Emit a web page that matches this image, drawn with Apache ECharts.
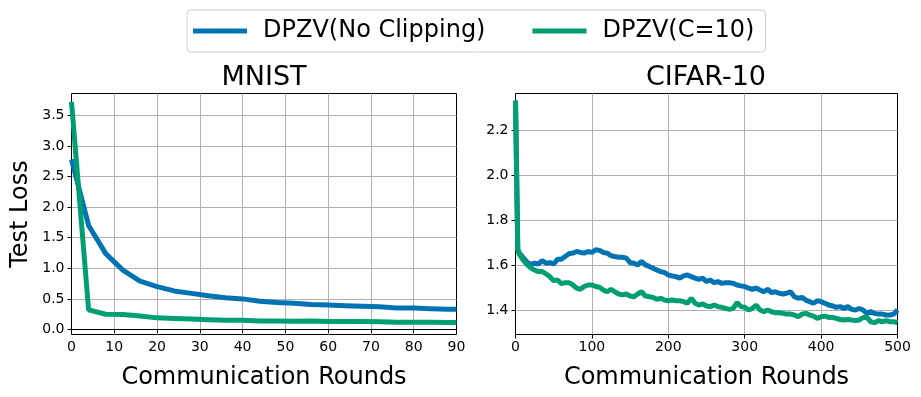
<!DOCTYPE html>
<html>
<head>
<meta charset="utf-8">
<script src="https://cdn.jsdelivr.net/npm/echarts@6/dist/echarts.min.js"></script>
<style>
  html, body { margin: 0; padding: 0; background: #fff; }
  #main { width: 921px; height: 397px; }
</style>
</head>
<body>
<div id="main"></div>
<script>
// MNIST
const mnistRounds = [0, 4, 8, 12, 16, 20, 24, 28, 32, 36, 40, 44, 48, 52, 56, 60, 64, 68, 72, 76, 80, 84, 88, 90];
const mnistNoClip = [2.78, 1.70, 1.24, 0.97, 0.79, 0.70, 0.63, 0.59, 0.55, 0.52, 0.50, 0.46, 0.44, 0.43, 0.41, 0.40, 0.39, 0.38, 0.37, 0.35, 0.35, 0.34, 0.33, 0.33];
const mnistClip = [3.72, 0.32, 0.25, 0.245, 0.22, 0.19, 0.18, 0.17, 0.16, 0.15, 0.15, 0.14, 0.14, 0.135, 0.14, 0.13, 0.13, 0.13, 0.125, 0.12, 0.12, 0.12, 0.115, 0.115];

// CIFAR-10
const cifarRounds = [0, 3, 5, 10, 15, 20, 25, 30, 35, 40, 45, 50, 55, 60, 65, 70, 75, 80, 85, 90, 95,
  100, 105, 110, 115, 120, 125, 130, 135, 140, 145, 150, 155, 160, 165, 170, 175, 180, 185, 190, 195,
  200, 205, 210, 215, 220, 225, 230, 235, 240, 245, 250, 255, 260, 265, 270, 275, 280, 285, 290, 295,
  300, 305, 310, 315, 320, 325, 330, 335, 340, 345, 350, 355, 360, 365, 370, 375, 380, 385, 390, 395,
  400, 405, 410, 415, 420, 425, 430, 435, 440, 445, 450, 455, 460, 465, 470, 475, 480, 485, 490, 495, 500];
const cifarNoClip = [2.33, 1.67, 1.655, 1.635, 1.615, 1.605, 1.61, 1.607, 1.622, 1.61, 1.613, 1.607, 1.628, 1.628, 1.64, 1.652, 1.655, 1.662, 1.658, 1.655, 1.662,
  1.658, 1.67, 1.667, 1.658, 1.655, 1.643, 1.64, 1.637, 1.637, 1.633, 1.613, 1.61, 1.603, 1.618, 1.603, 1.596, 1.588, 1.58, 1.573, 1.569,
  1.558, 1.554, 1.551, 1.544, 1.554, 1.558, 1.551, 1.544, 1.539, 1.544, 1.529, 1.536, 1.524, 1.529, 1.521, 1.524, 1.524, 1.521, 1.514, 1.51,
  1.507, 1.50, 1.495, 1.50, 1.492, 1.484, 1.495, 1.48, 1.484, 1.477, 1.474, 1.477, 1.484, 1.462, 1.455, 1.459, 1.447, 1.44, 1.433, 1.444,
  1.44, 1.433, 1.425, 1.421, 1.415, 1.418, 1.41, 1.418, 1.406, 1.403, 1.41, 1.403, 1.388, 1.396, 1.388, 1.385, 1.385, 1.381, 1.381, 1.385, 1.403];
const cifarClip = [2.33, 1.67, 1.65, 1.625, 1.605, 1.59, 1.58, 1.573, 1.573, 1.563, 1.55, 1.533, 1.536, 1.52, 1.524, 1.524, 1.514, 1.50, 1.495, 1.507, 1.514,
  1.514, 1.507, 1.504, 1.492, 1.484, 1.495, 1.484, 1.474, 1.47, 1.474, 1.465, 1.462, 1.474, 1.484, 1.465, 1.462, 1.459, 1.45, 1.455, 1.447,
  1.444, 1.447, 1.444, 1.444, 1.44, 1.433, 1.455, 1.433, 1.425, 1.43, 1.421, 1.418, 1.425, 1.418, 1.415, 1.41, 1.406, 1.41, 1.436, 1.418,
  1.415, 1.403, 1.41, 1.425, 1.403, 1.396, 1.403, 1.396, 1.391, 1.391, 1.388, 1.385, 1.385, 1.381, 1.373, 1.385, 1.388, 1.381, 1.376, 1.366,
  1.373, 1.376, 1.37, 1.37, 1.366, 1.361, 1.359, 1.361, 1.359, 1.356, 1.359, 1.37, 1.37, 1.351, 1.347, 1.356, 1.351, 1.356, 1.351, 1.351, 1.347];

const seriesNames = ['DPZV(No Clipping)', 'DPZV(C=10)'];
const colors = ['#0173b2', '#029e73'];

const font = 'DejaVu Sans';
const gridColor = '#b0b0b0';

function pairs(xs, ys) {
  return xs.map((x, i) => [x, ys[i]]);
}

// 外框坐标轴（带 x 轴刻度），内层坐标轴（带 y 轴刻度）
function frameX(gridIndex, max, interval) {
  return {
    type: 'value', gridIndex: gridIndex, min: 0, max: max, interval: interval,
    name: 'Communication Rounds', nameLocation: 'middle', nameGap: 31,
    nameTextStyle: { fontFamily: font, fontSize: 24, color: '#000' },
    axisLine: { show: true, lineStyle: { color: '#000', width: 1 } },
    axisTick: { show: true, length: 4, lineStyle: { color: '#000' } },
    axisLabel: { fontFamily: font, fontSize: 14, color: '#000', margin: 6 },
    splitLine: { show: true, showMinLine: false, showMaxLine: false, lineStyle: { color: gridColor, width: 1 } }
  };
}
function hiddenX(gridIndex, max) {
  return { type: 'value', gridIndex: gridIndex, min: 0, max: max, show: false };
}
function innerY(gridIndex, min, max, interval) {
  return {
    type: 'value', gridIndex: gridIndex, min: min, max: max, interval: interval,
    axisLine: { show: false },
    axisTick: { show: true, length: 4, lineStyle: { color: '#000' } },
    axisLabel: { fontFamily: font, fontSize: 14, color: '#000', margin: 7, formatter: v => v.toFixed(1) },
    splitLine: { show: true, lineStyle: { color: gridColor, width: 1 } }
  };
}

let myChart = echarts.init(document.getElementById('main'));
myChart.setOption({
  animation: false,
  color: colors,
  title: [
    { text: 'MNIST', left: 264, top: 64, textAlign: 'center', padding: 0,
      textStyle: { fontFamily: font, fontSize: 27, fontWeight: 'normal', color: '#000' } },
    { text: 'CIFAR-10', left: 706, top: 64, textAlign: 'center', padding: 0,
      textStyle: { fontFamily: font, fontSize: 27, fontWeight: 'normal', color: '#000' } }
  ],
  legend: {
    data: seriesNames,
    left: 187, top: 10,
    padding: [9, 11, 9, 6],
    itemGap: 47,
    itemWidth: 54, itemHeight: 5,
    icon: 'rect',
    borderColor: '#cccccc', borderWidth: 1, borderRadius: 4,
    textStyle: { fontFamily: font, fontSize: 24, color: '#000', padding: [0, 0, 0, 11] }
  },
  grid: [
    { left: 71.5, top: 93.5, width: 385, height: 241, show: true, borderColor: '#000', borderWidth: 1 },
    { left: 71.5, top: 115.3, width: 385, height: 214.2 },
    { left: 515.5, top: 93.5, width: 382, height: 241, show: true, borderColor: '#000', borderWidth: 1 },
    { left: 515.5, top: 130, width: 382, height: 180.7 }
  ],
  xAxis: [
    frameX(0, 90, 10),
    hiddenX(1, 90),
    frameX(2, 500, 100),
    hiddenX(3, 500)
  ],
  yAxis: [
    { type: 'value', gridIndex: 0, min: -0.09, max: 3.864,
      name: 'Test Loss', nameLocation: 'middle', nameGap: 39,
      nameTextStyle: { fontFamily: font, fontSize: 24, color: '#000' },
      axisLine: { show: false }, axisTick: { show: false }, axisLabel: { show: false }, splitLine: { show: false } },
    innerY(1, 0, 3.5, 0.5),
    { type: 'value', gridIndex: 2, min: 1.2925, max: 2.364, show: false },
    innerY(3, 1.4, 2.2, 0.2)
  ],
  series: [
    { name: seriesNames[0], type: 'line', xAxisIndex: 1, yAxisIndex: 1, clip: false, showSymbol: false,
      lineStyle: { width: 5, color: colors[0] }, data: pairs(mnistRounds, mnistNoClip) },
    { name: seriesNames[1], type: 'line', xAxisIndex: 1, yAxisIndex: 1, clip: false, showSymbol: false,
      lineStyle: { width: 5, color: colors[1] }, data: pairs(mnistRounds, mnistClip) },
    { name: seriesNames[0], type: 'line', xAxisIndex: 3, yAxisIndex: 3, clip: false, showSymbol: false,
      lineStyle: { width: 5, color: colors[0] }, data: pairs(cifarRounds, cifarNoClip) },
    { name: seriesNames[1], type: 'line', xAxisIndex: 3, yAxisIndex: 3, clip: false, showSymbol: false,
      lineStyle: { width: 5, color: colors[1] }, data: pairs(cifarRounds, cifarClip) }
  ]
});
</script>
</body>
</html>
